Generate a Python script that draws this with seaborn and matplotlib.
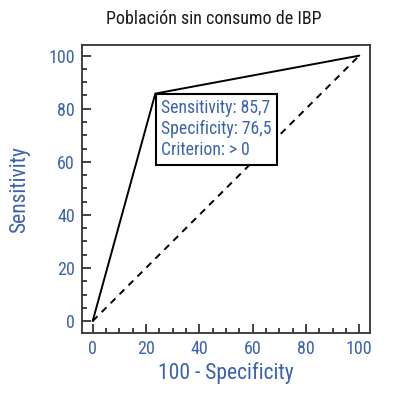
import numpy as np
import pandas as pd
import seaborn as sns
from matplotlib import pyplot as plt
from matplotlib.ticker import MultipleLocator

sns.set_style("ticks")
plt.rcParams['font.family'] = ['Liberation Sans Narrow', 'Roboto Condensed', 'Roboto', 'DejaVu Sans']

# ROC data
fpr = [0, 23.5, 100]
tpr = [0, 85.7, 100]
ref_x = [0, 100]
ref_y = [0, 100]
sens, spec, crit = "85,7", "76,5", "> 0"

blue = '#3a62ad'

fig = plt.figure(figsize=(3.95, 4.03), dpi=100)
ax = fig.add_axes([0.2076, 0.1737, 0.729, 0.7146])

roc = pd.DataFrame({'x': fpr, 'y': tpr})
diag = pd.DataFrame({'x': ref_x, 'y': ref_y})
sns.lineplot(data=diag, x='x', y='y', ax=ax, color='black', lw=1.4,
             linestyle=(0, (3.5, 3)), sort=False)
sns.lineplot(data=roc, x='x', y='y', ax=ax, color='black', lw=1.4, sort=False)

ax.set_xlim(-4, 104)
ax.set_ylim(-4.5, 104)
ax.xaxis.set_major_locator(MultipleLocator(20))
ax.yaxis.set_major_locator(MultipleLocator(20))
ax.xaxis.set_minor_locator(MultipleLocator(5))
ax.yaxis.set_minor_locator(MultipleLocator(5))
ax.tick_params(which='major', direction='in', length=6.5, width=1.2,
               labelcolor=blue, labelsize=13, color='#222222', pad=5)
ax.tick_params(which='minor', direction='in', length=3.5, width=1.2, color='#222222')
for s in ax.spines.values():
    s.set_linewidth(1.3)
    s.set_color('#333333')

ax.set_xlabel('100 - Specificity', color=blue, fontsize=15.5, labelpad=3)
ax.set_ylabel('Sensitivity', color=blue, fontsize=15.5, labelpad=13)
fig.suptitle('Población sin consumo de IBP', x=0.54, y=0.975, fontsize=13,
             color='#1a1a1a')

ax.annotate(f'Sensitivity: {sens}\nSpecificity: {spec}\nCriterion: {crit}',
            xy=(fpr[1], tpr[1]), xytext=(4, -4), textcoords='offset points',
            ha='left', va='top', color=blue, fontsize=12.7, linespacing=1.22,
            bbox=dict(boxstyle='square,pad=0.3', fc='white', ec='black', lw=1.5))

fig.savefig('out.png', dpi=100)
